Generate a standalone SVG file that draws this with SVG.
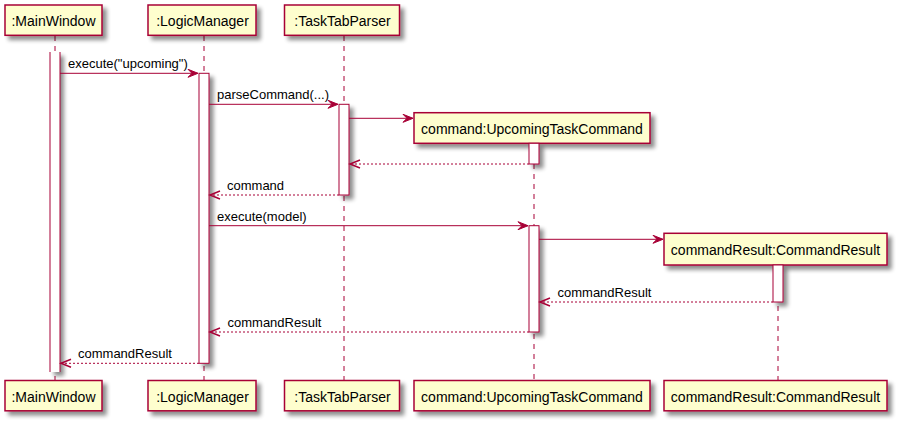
<svg xmlns="http://www.w3.org/2000/svg" width="900" height="424" viewBox="0 0 900 424">
<defs>
<filter id="sh" x="-50%" y="-30%" width="250%" height="180%">
<feGaussianBlur in="SourceAlpha" stdDeviation="2"/>
<feOffset dx="4" dy="4" result="o"/>
<feComponentTransfer><feFuncA type="linear" slope="0.45"/></feComponentTransfer>
<feMerge><feMergeNode/><feMergeNode in="SourceGraphic"/></feMerge>
</filter>
<marker id="ah" viewBox="-1 0 12 10" refX="10" refY="5" markerWidth="12" markerHeight="10" orient="auto" markerUnits="userSpaceOnUse" overflow="visible">
<path d="M0,1 L10,5 L0,9 L4,5 Z" fill="#A80036" stroke="#A80036" stroke-width="1"/>
</marker>
<marker id="oh" viewBox="-1 0 12 10" refX="10" refY="5" markerWidth="12" markerHeight="10" orient="auto" markerUnits="userSpaceOnUse" overflow="visible">
<path d="M0,1 L10,5 L0,9" fill="none" stroke="#A80036" stroke-width="1.5" stroke-dasharray="none"/>
</marker>
</defs>
<style>
.box{fill:#FEFECE;stroke:#A80036;stroke-width:1.5;filter:url(#sh)}
.act{fill:#FFFFFF;stroke:#A80036;stroke-width:1;filter:url(#sh)}
.actopen{fill:#FFFFFF;stroke:none;filter:url(#sh)}
.edge{stroke:#A80036;stroke-width:1}
.life{stroke:#A80036;stroke-width:1;stroke-dasharray:5,5;fill:none}
.ptxt{font-family:"Liberation Sans",Arial,sans-serif;font-size:14px;fill:#000000;text-anchor:middle}
.mtxt{font-family:"Liberation Sans",Arial,sans-serif;font-size:13px;fill:#000000}
.msg{stroke:#A80036;stroke-width:1;fill:none;marker-end:url(#ah)}
.ret{stroke:#A80036;stroke-width:1;fill:none;stroke-dasharray:2,2;marker-end:url(#oh)}
</style>
<rect width="900" height="424" fill="#FFFFFF"/>

<g id="lifelines">
<line class="life" x1="55" y1="36" x2="55" y2="380"/>
<line class="life" x1="204" y1="36" x2="204" y2="380"/>
<line class="life" x1="344" y1="36" x2="344" y2="380"/>
<line class="life" x1="534" y1="144" x2="534" y2="380"/>
<line class="life" x1="778" y1="266" x2="778" y2="380"/>
</g>

<g id="MainWindow">
<rect class="box" x="5" y="5" width="97" height="30.3"/>
<text class="ptxt" x="53.5" y="26">:MainWindow</text>
<rect class="actopen" x="50" y="52" width="10" height="320"/>
<line class="edge" x1="50" y1="52" x2="50" y2="372"/>
<line class="edge" x1="60" y1="52" x2="60" y2="372"/>
<rect class="box" x="5" y="380.5" width="97" height="30.3"/>
<text class="ptxt" x="53.5" y="401.5">:MainWindow</text>
</g>

<g id="LogicManager">
<rect class="box" x="148" y="5" width="108" height="30.3"/>
<text class="ptxt" x="202.5" y="26">:LogicManager</text>
<rect class="act" x="199" y="73.3" width="10" height="290"/>
<rect class="box" x="148" y="380.5" width="108" height="30.3"/>
<text class="ptxt" x="202.5" y="401.5">:LogicManager</text>
</g>

<g id="TaskTabParser">
<rect class="box" x="284.5" y="5" width="115" height="30.3"/>
<text class="ptxt" x="342.5" y="26">:TaskTabParser</text>
<rect class="act" x="339" y="104.3" width="10" height="90.7"/>
<rect class="box" x="284.5" y="380.5" width="115" height="30.3"/>
<text class="ptxt" x="342.5" y="401.5">:TaskTabParser</text>
</g>

<g id="UpcomingTaskCommand">
<rect class="box" x="414" y="112.7" width="236" height="30.6"/>
<text class="ptxt" x="532" y="133.7">command:UpcomingTaskCommand</text>
<rect class="act" x="529" y="143.3" width="10" height="20.7"/>
<rect class="act" x="529" y="225.7" width="10" height="106.3"/>
<rect class="box" x="414" y="380.5" width="236" height="30.3"/>
<text class="ptxt" x="532" y="401.5">command:UpcomingTaskCommand</text>
</g>

<g id="CommandResult">
<rect class="box" x="664" y="233.3" width="223" height="31.7"/>
<text class="ptxt" x="775.5" y="254.5">commandResult:CommandResult</text>
<rect class="act" x="773" y="265" width="10" height="37"/>
<rect class="box" x="664" y="380.5" width="223" height="30.3"/>
<text class="ptxt" x="775.5" y="401.5">commandResult:CommandResult</text>
</g>

<g id="messages">
<line class="msg" x1="60" y1="73.3" x2="198" y2="73.3"/>
<text class="mtxt" x="68" y="68.3">execute("upcoming")</text>
<line class="msg" x1="209" y1="104.3" x2="338" y2="104.3"/>
<text class="mtxt" x="217" y="99.3">parseCommand(...)</text>
<line class="msg" x1="349" y1="118.3" x2="413" y2="118.3"/>
<line class="ret" x1="529" y1="164" x2="350" y2="164"/>
<line class="ret" x1="339" y1="195" x2="210" y2="195"/>
<text class="mtxt" x="227" y="190">command</text>
<line class="msg" x1="209" y1="225.7" x2="528" y2="225.7"/>
<text class="mtxt" x="217" y="220.7">execute(model)</text>
<line class="msg" x1="539" y1="239.3" x2="663" y2="239.3"/>
<line class="ret" x1="773" y1="302" x2="540" y2="302"/>
<text class="mtxt" x="557.5" y="297">commandResult</text>
<line class="ret" x1="529" y1="332" x2="210" y2="332"/>
<text class="mtxt" x="227.5" y="327">commandResult</text>
<line class="ret" x1="199" y1="363.3" x2="61" y2="363.3"/>
<text class="mtxt" x="78" y="358.3">commandResult</text>
</g>
</svg>
